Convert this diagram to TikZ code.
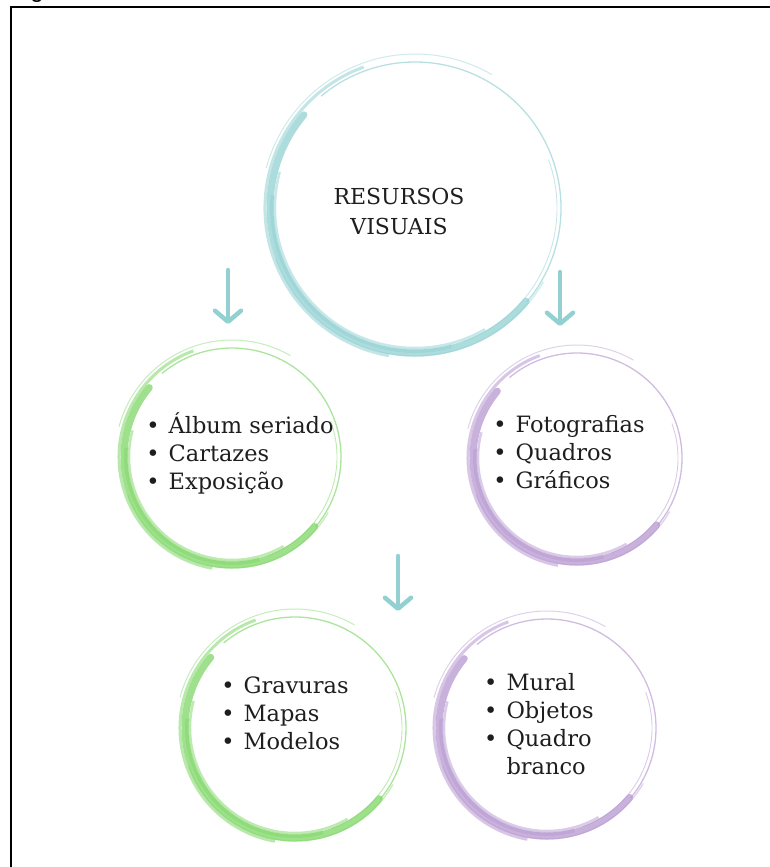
\documentclass[tikz,border=0pt]{standalone}
\usepackage{fontspec}
\setmainfont{DejaVu Serif}
\newfontfamily\legenda{Liberation Sans}
\usetikzlibrary{calc,arrows.meta}
\definecolor{turquesa}{RGB}{146,208,210}
\definecolor{verde}{RGB}{126,214,102}
\definecolor{lilas}{RGB}{182,152,208}
\definecolor{tinta}{RGB}{30,30,30}
\newcommand{\anel}[4][(0pt,0pt)]{%
  \coordinate (c) at ($(#2.center)+#1$);
  \draw[#4, line width=7pt, opacity=.75, line cap=round] ($(c)+(140:{#3pt})$) arc[start angle=140, end angle=320, radius=#3pt];
  \draw[#4, line width=3pt, opacity=.55] ($(c)+(110:{#3pt+5pt})$) arc[start angle=110, end angle=260, radius=#3pt+5pt];
  \draw[#4, line width=2.5pt, opacity=.5] ($(c)+(165:{#3pt-5pt})$) arc[start angle=165, end angle=300, radius=#3pt-5pt];
  \draw[#4, line width=4pt, opacity=.45] ($(c)+(175:{#3pt-2pt})$) arc[start angle=175, end angle=285, radius=#3pt-2pt];
  \draw[#4, line width=1.3pt, opacity=.65] ($(c)+(-40:{#3pt+1pt})$) arc[start angle=-40, end angle=130, radius=#3pt+1pt];
  \draw[#4, line width=1pt, opacity=.45] ($(c)+(60:{#3pt+9pt})$) arc[start angle=60, end angle=165, radius=#3pt+9pt];
  \draw[#4, line width=.9pt, opacity=.5] ($(c)+(290:{#3pt-3pt})$) arc[start angle=290, end angle=380, radius=#3pt-3pt];
  \draw[#4, line width=1.5pt, opacity=.4] ($(c)+(200:{#3pt+3pt})$) arc[start angle=200, end angle=330, radius=#3pt+3pt];
}
\begin{document}
\begin{tikzpicture}[x=1pt,y=-1pt,
  recurso/.style={circle, text=tinta, font=\fontsize{22.5}{28}\selectfont},
  lista/.style={recurso, align=left},
  seta/.style={turquesa, line width=4.5pt, line cap=round, -{Straight Barb[length=11pt,width=26pt,round]}}]
\useasboundingbox (0,0) rectangle (770,867);
\node[anchor=base, font=\legenda\fontsize{24}{24}\selectfont] (fig) at (37,-2) {g};
\draw[line width=2.5pt] (11,868) -- (11,7) -- (771,7);

\node[recurso, align=center, font=\fontsize{22}{30}\selectfont] (res) at (399,211) {RESURSOS\\VISUAIS};
\node[lista] (alb) at (240,455) {\begin{tabular}{@{}l@{\hspace{9pt}}l@{}}• & Álbum seriado\\ • & Cartazes\\ • & Exposição\end{tabular}};
\node[lista] (fot) at (569,455) {\begin{tabular}{@{}l@{\hspace{9pt}}l@{}}• & Fotografias\\ • & Quadros\\ • & Gráficos\end{tabular}};
\node[lista] (gra) at (285,716) {\begin{tabular}{@{}l@{\hspace{9pt}}l@{}}• & Gravuras\\ • & Mapas\\ • & Modelos\end{tabular}};
\node[lista] (mur) at (539,727) {\begin{tabular}{@{}l@{\hspace{9pt}}l@{}}• & Mural\\ • & Objetos\\ • & Quadro\\ & branco\end{tabular}};

\anel[(16pt,3pt)]{res}{145}{turquesa}
\anel[(-8pt,-2pt)]{alb}{108}{verde}
\anel[(8pt,-3pt)]{fot}{104}{lilas}
\anel[(10pt,-12pt)]{gra}{110}{verde}
\anel[(8pt,-1pt)]{mur}{108}{lilas}

\coordinate (s1) at (228,270);
\coordinate (e1) at (228,324);
\coordinate (s2) at (560,272);
\coordinate (e2) at (560,326);
\coordinate (s3) at (398,556);
\coordinate (e3) at (398,611);
\draw[seta] (s1) -- (e1);
\draw[seta] (s2) -- (e2);
\draw[seta] (s3) -- (e3);
\end{tikzpicture}
\end{document}
